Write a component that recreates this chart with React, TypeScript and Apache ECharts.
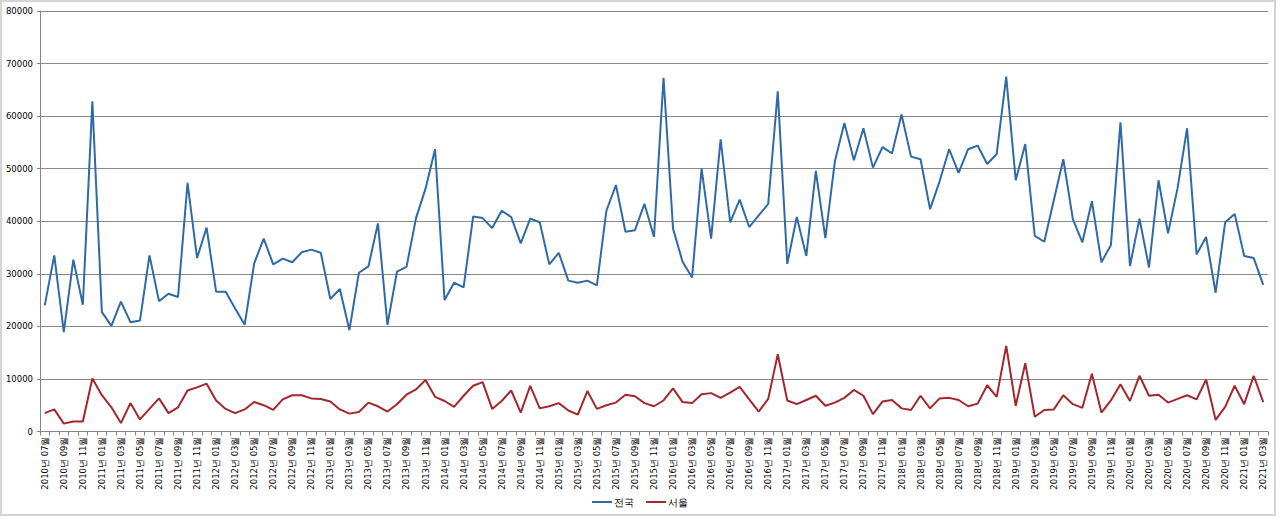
import React, { useEffect, useRef } from "react";
import * as echarts from "echarts";

const startYear = 2010;
const startMonth = 7;
const monthCount = 129;

const categories: string[] = [];
for (let k = 0; k < monthCount; k++) {
  const m0 = startMonth - 1 + k;
  const y = startYear + Math.floor(m0 / 12);
  const m = (m0 % 12) + 1;
  categories.push(`${y}년 ${m < 10 ? "0" + m : m}월`);
}

const nationwide = [
  24000, 33500, 18900, 32700, 24100, 62800, 22700, 20100, 24700, 20800,
  21100, 33500, 24800, 26200, 25600, 47300, 33000, 38800, 26600, 26600,
  23400, 20300, 32000, 36700, 31800, 32900, 32200, 34100, 34600, 34000,
  25200, 27100, 19300, 30200, 31400, 39600, 20300, 30400, 31300, 40600,
  46200, 53700, 25000, 28300, 27400, 40900, 40600, 38700, 42000, 40800,
  35800, 40500, 39800, 31800, 34000, 28700, 28300, 28700, 27800, 42000,
  46900, 38000, 38300, 43300, 37000, 67300, 38600, 32300, 29300, 50000,
  36700, 55600, 39800, 44100, 38900, 41100, 43300, 64700, 31900, 40800,
  33400, 49600, 36800, 51400, 58700, 51600, 57700, 50200, 54100, 52900,
  60300, 52300, 51800, 42300, 47600, 53700, 49200, 53700, 54400, 50900,
  52800, 67500, 47800, 54700, 37200, 36100, 44000, 51800, 40400, 36000,
  43800, 32200, 35500, 58800, 31500, 40500, 31200, 47800, 37700, 46300,
  57700, 33700, 37000, 26400, 39800, 41400, 33400, 33000, 27900,
];

const seoul = [
  3500, 4200, 1500, 1900, 1900, 10100, 6900, 4600, 1600, 5400,
  2300, 4300, 6300, 3500, 4600, 7800, 8400, 9100, 5900, 4300,
  3500, 4200, 5600, 5000, 4100, 6100, 6900, 6900, 6300, 6200,
  5700, 4200, 3400, 3700, 5500, 4800, 3800, 5200, 7000, 8000,
  9800, 6600, 5800, 4700, 6800, 8700, 9400, 4300, 5800, 7800,
  3600, 8700, 4400, 4800, 5400, 4000, 3200, 7700, 4300, 5000,
  5500, 7000, 6700, 5400, 4800, 5900, 8200, 5600, 5400, 7100,
  7300, 6400, 7400, 8500, 6100, 3800, 6200, 14700, 5900, 5200,
  6000, 6800, 4900, 5500, 6400, 7900, 6800, 3300, 5700, 6000,
  4400, 4100, 6800, 4400, 6300, 6400, 6000, 4800, 5300, 8800,
  6600, 16300, 4900, 13000, 2800, 4100, 4200, 6900, 5200, 4500,
  11000, 3600, 5900, 9000, 5800, 10600, 6800, 7000, 5500, 6200,
  6900, 6100, 9900, 2200, 4700, 8700, 5200, 10600, 5600,
];

const seriesNames = ["전국", "서울"];

export default function App() {
  const ref = useRef<HTMLDivElement>(null);
  useEffect(() => {
    if (!ref.current) return;
    const chart = echarts.init(ref.current, null, { renderer: "svg" });
    const font = "'DejaVu Sans', Verdana, sans-serif";
    chart.setOption({
      animation: false,
      backgroundColor: "#ffffff",
      graphic: [
        {
          type: "rect",
          shape: { x: 1, y: 1, width: 1274, height: 514 },
          style: { fill: "none", stroke: "#d4d4d4", lineWidth: 2 },
          silent: true,
        },
      ],
      grid: { left: 40, right: 12, top: 11, bottom: 87.5, containLabel: false },
      legend: {
        bottom: 7,
        left: "center",
        itemWidth: 20,
        itemHeight: 2,
        itemGap: 12,
        icon: "rect",
        textStyle: { fontSize: 9.5, fontFamily: font, color: "#000", padding: [0, 0, 0, -3] },
        data: seriesNames,
      },
      xAxis: {
        type: "category",
        data: categories,
        boundaryGap: true,
        axisLine: { lineStyle: { color: "#868686", width: 1 } },
        axisTick: { show: true, interval: 0, length: 4, lineStyle: { color: "#868686" } },
        axisLabel: {
          interval: 1,
          rotate: 90,
          fontSize: 8.5,
          fontFamily: font,
          color: "#000",
          margin: 5,
        },
      },
      yAxis: {
        type: "value",
        min: 0,
        max: 80000,
        interval: 10000,
        axisLine: { show: true, lineStyle: { color: "#868686", width: 1 } },
        axisTick: { show: true, length: 3, lineStyle: { color: "#868686" } },
        axisLabel: {
          fontSize: 8.5,
          fontFamily: font,
          color: "#000",
          margin: 7,
          formatter: (v: number) => String(v),
        },
        splitLine: { show: true, lineStyle: { color: "#8a8a8a", width: 1 } },
      },
      series: [
        {
          name: seriesNames[0],
          type: "line",
          data: nationwide,
          symbol: "none",
          lineStyle: { color: "#2f6aa8", width: 2 },
          itemStyle: { color: "#2f6aa8" },
        },
        {
          name: seriesNames[1],
          type: "line",
          data: seoul,
          symbol: "none",
          lineStyle: { color: "#a3272c", width: 2 },
          itemStyle: { color: "#a3272c" },
        },
      ],
    });
    return () => chart.dispose();
  }, []);
  return (
    <div
      ref={ref}
      style={{ position: "fixed", left: 0, top: 0, width: 1280, height: 519 }}
    />
  );
}
